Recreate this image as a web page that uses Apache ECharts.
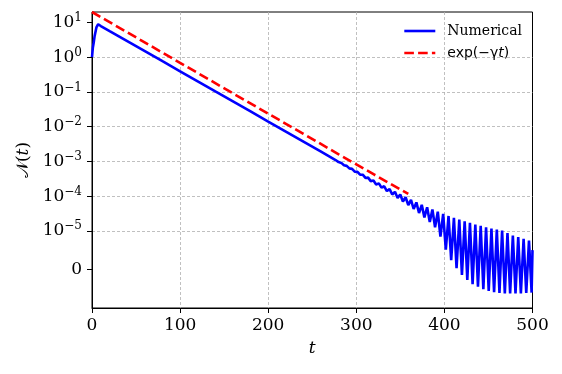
<!DOCTYPE html>
<html>
<head>
<meta charset="utf-8">
<script src="https://cdn.jsdelivr.net/npm/echarts@6/dist/echarts.min.js"></script>
<style>
  html, body { margin: 0; padding: 0; background: #fff; }
  #chart { width: 562px; height: 374px; }
</style>
</head>
<body>
<div id="chart"></div>
<script>
// numerical N(t) (extrema of the late oscillation)
var tNum = [0, 1, 2, 3, 5, 7, 10, 20, 40, 60, 80, 100, 120, 140, 160, 180, 200, 220, 240, 260, 276,
  279.9, 283.0, 286.0, 289.1, 292.1, 295.2, 298.2, 301.3, 304.3, 307.3, 310.4, 313.4, 316.4, 319.5,
  322.5, 325.6, 328.6, 331.7, 334.7, 337.8, 340.8, 343.9, 346.9, 349.9, 352.9, 356.0, 359.0, 362.1,
  365.1, 368.2, 371.2, 374.3, 377.3, 380.4, 383.4, 386.4, 389.4, 392.5, 395.5, 398.6, 401.6, 404.7,
  407.7, 410.8, 413.8, 416.9, 419.9, 423.0, 426.0, 429.0, 432.0, 435.1, 438.1, 441.2, 444.2, 447.3,
  450.3, 453.4, 456.4, 459.5, 462.5, 465.5, 468.6, 471.6, 474.6, 477.7, 480.7, 483.8, 486.8, 489.9,
  492.9, 496.0, 499.0, 500];
var nNum = [1, 1.9, 2.7, 4.1, 7.2, 8.9, 7.9, 5.65, 2.9, 1.49, 0.764, 0.392, 0.201, 0.103, 0.0533, 0.0274,
  0.014, 0.0072, 0.0037, 0.0019, 0.00111,
  9.52e-4, 9.04e-4, 7.73e-4, 7.41e-4, 6.28e-4, 6.08e-4, 5.08e-4, 4.99e-4, 4.12e-4, 4.13e-4, 3.33e-4,
  3.40e-4, 2.70e-4, 2.80e-4, 2.17e-4, 2.32e-4, 1.75e-4, 1.92e-4, 1.40e-4, 1.59e-4, 1.11e-4, 1.33e-4,
  8.87e-5, 1.11e-4, 7.00e-5, 9.27e-5, 5.47e-5, 7.80e-5, 4.25e-5, 6.59e-5, 3.25e-5, 5.59e-5, 2.44e-5,
  4.77e-5, 1.79e-5, 4.10e-5, 1.27e-5, 3.54e-5, 0.85e-5, 3.07e-5, 0.51e-5, 2.68e-5, 0.24e-5, 2.36e-5,
  0.03e-5, 2.10e-5, -0.14e-5, 1.87e-5, -0.27e-5, 1.69e-5, -0.38e-5, 1.52e-5, -0.45e-5, 1.39e-5,
  -0.51e-5, 1.27e-5, -0.56e-5, 1.17e-5, -0.59e-5, 1.09e-5, -0.61e-5, 1.01e-5, -0.62e-5, 0.94e-5,
  -0.62e-5, 0.88e-5, -0.62e-5, 0.84e-5, -0.62e-5, 0.79e-5, -0.61e-5, 0.75e-5, -0.60e-5, 0.5e-5];

// exp(-gamma t) reference line
var tExp = [0, 40, 80, 120, 160, 200, 240, 280, 320, 359];
var nExp = [20, 5.2, 1.35, 0.35, 0.091, 0.0237, 0.0062, 0.0016, 4.2e-4, 1.15e-4];

// y ticks: 0, then 10^-5 ... 10^1 ; x ticks every 100
var yTickExps = [-5, -4, -3, -2, -1, 0, 1];
var xTicks = [0, 100, 200, 300, 400, 500];

// symlog scale like matplotlib (linthresh 1e-5, linscale 1)
var LINTHRESH = 1e-5;
var LINSCALE = 1 / (1 - 1 / 10);
function symlog(v) {
  var a = Math.abs(v);
  if (a <= LINTHRESH) return v / LINTHRESH * LINSCALE;
  return (v < 0 ? -1 : 1) * (LINSCALE + Math.log10(a / LINTHRESH));
}

var yTicks = [0].concat(yTickExps.map(function (e) { return symlog(Math.pow(10, e)); }));

function yLabel(val) {
  if (Math.abs(val) < 1e-6) return '{b|0}';
  var e = Math.round(val - LINSCALE) - 5;
  var s = e < 0 ? '\u2212' + (-e) : '' + e;
  return '{b|10}{s|' + s + '}';
}

var serif = '"DejaVu Serif", serif';
var gridLine = {
  show: true, showMinLine: false, showMaxLine: false,
  lineStyle: { color: '#b0b0b0', width: 0.8, type: [3, 2] }
};

var chart = echarts.init(document.getElementById('chart'));
chart.setOption({
  animation: false,
  backgroundColor: '#fff',
  grid: {
    left: 92, right: 29.5, top: 12, bottom: 66,
    show: true, borderColor: '#000', borderWidth: 1
  },
  legend: {
    left: 403, top: 24, padding: 0, orient: 'vertical', itemWidth: 31, itemHeight: 14, itemGap: 8,
    itemStyle: { color: 'rgba(0,0,0,0)', borderWidth: 0 },
    lineStyle: { width: 2.6 },
    data: ['Numerical', 'exp(\u2212\u03b3t)'],
    formatter: function (name) {
      return name === 'Numerical' ? '{n|Numerical}' : '{e|exp(\u2212\u03b3}{i|t}{e|)}';
    },
    textStyle: {
      padding: [0, 0, 0, 7],
      rich: {
        n: { fontFamily: serif, fontSize: 14, color: '#000' },
        e: { fontFamily: '"DejaVu Sans"', fontSize: 14, color: '#000' },
        i: { fontFamily: '"DejaVu Sans"', fontStyle: 'italic', fontSize: 14, color: '#000' }
      }
    }
  },
  xAxis: {
    type: 'value', min: 0, max: 500, interval: 100,
    name: 't', nameLocation: 'middle', nameGap: 32,
    nameTextStyle: { fontFamily: serif, fontStyle: 'italic', fontSize: 17, color: '#000' },
    axisLine: { show: true, onZero: false, lineStyle: { color: '#000', width: 1 } },
    axisTick: { show: true, length: 5, lineStyle: { color: '#000' } },
    axisLabel: { fontFamily: serif, fontSize: 17, color: '#000', margin: 9,
      customValues: xTicks },
    splitLine: gridLine
  },
  yAxis: {
    type: 'value', min: symlog(-1e-5), max: symlog(20),
    name: '\ud835\udca9(\ud835\udc61)', nameLocation: 'middle', nameGap: 60,
    nameTextStyle: { fontFamily: serif, fontSize: 17, color: '#000' },
    axisLine: { show: true, onZero: false, lineStyle: { color: '#000', width: 1 } },
    axisTick: { show: true, length: 5, lineStyle: { color: '#000' }, customValues: yTicks },
    axisLabel: {
      margin: 10, customValues: yTicks, formatter: yLabel,
      rich: {
        b: { fontFamily: serif, fontSize: 17, color: '#000' },
        s: { fontFamily: serif, fontSize: 12, color: '#000', padding: [0, 0, 9, 0] }
      }
    },
    splitLine: gridLine
  },
  series: [
    {
      name: 'Numerical', type: 'line', symbol: 'none',
      lineStyle: { color: '#0000ff', width: 2.6 }, itemStyle: { color: '#0000ff' },
      data: tNum.map(function (t, i) { return [t, symlog(nNum[i])]; })
    },
    {
      name: 'exp(\u2212\u03b3t)', type: 'line', symbol: 'none',
      lineStyle: { color: '#ff0000', width: 2.6, type: [9.6, 4.2] }, itemStyle: { color: '#ff0000' },
      data: tExp.map(function (t, i) { return [t, symlog(nExp[i])]; })
    }
  ]
});
</script>
</body>
</html>
